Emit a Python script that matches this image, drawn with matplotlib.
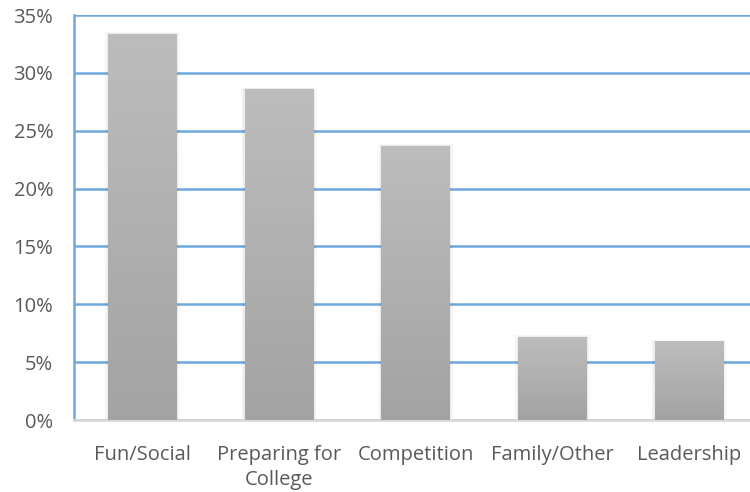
import matplotlib.pyplot as plt
import numpy as np
from matplotlib.ticker import FuncFormatter
from matplotlib.colors import LinearSegmentedColormap
from matplotlib.patches import Rectangle

categories = ['Fun/Social', 'Preparing for\nCollege', 'Competition', 'Family/Other', 'Leadership']
shares = [33.4, 28.6, 23.7, 7.2, 6.8]  # percent

grid_blue = '#6fa8dc'
text_gray = '#595959'
bar_width = 0.5

fig = plt.figure(figsize=(7.5, 4.92), dpi=100)
ax = fig.add_axes([0.0987, 0.1463, 0.911, 0.8232])

x = np.arange(len(categories))
bars = ax.bar(x, shares, bar_width, color='none', zorder=3)

# vertical grey gradient inside each bar, plus a soft shadow
grad = LinearSegmentedColormap.from_list('bar', ['#a3a3a3', '#bdbdbd'])
for b in bars:
    x0, w, h = b.get_x(), b.get_width(), b.get_height()
    for k, a in enumerate([0.04, 0.025, 0.012]):
        pad = 0.01 * (k + 1)
        ax.add_patch(Rectangle((x0 - pad, 0), w + 2 * pad, h + pad * 6,
                               color='black', alpha=a, lw=0, zorder=2))
    im = ax.imshow(np.linspace(0, 1, 100).reshape(-1, 1), cmap=grad, origin='lower',
                   extent=[x0, x0 + w, 0, h], aspect='auto', zorder=3)
    im.set_clip_path(b)

ax.set_xlim(-0.5, len(categories) - 0.5)
ax.set_ylim(0, 35)
ax.set_yticks(np.arange(0, 36, 5))
ax.yaxis.set_major_formatter(FuncFormatter(lambda v, p: f'{v:.0f}%'))
ax.set_xticks(x)
ax.set_xticklabels(categories)

ax.grid(axis='y', color=grid_blue, lw=1.8, zorder=1)
ax.set_axisbelow(True)
for s in ['top', 'right']:
    ax.spines[s].set_visible(False)
ax.spines['left'].set_color(grid_blue)
ax.spines['left'].set_linewidth(1.8)
ax.spines['bottom'].set_color('#d9d9d9')
ax.spines['bottom'].set_linewidth(2)

ax.tick_params(axis='both', length=0, labelsize=14.5, labelcolor=text_gray, labelfontfamily='Open Sans')
ax.tick_params(axis='y', pad=15)
ax.tick_params(axis='x', pad=18)
for t in ax.get_xticklabels():
    t.set_linespacing(1.3)

fig.savefig('out.png', dpi=100)
